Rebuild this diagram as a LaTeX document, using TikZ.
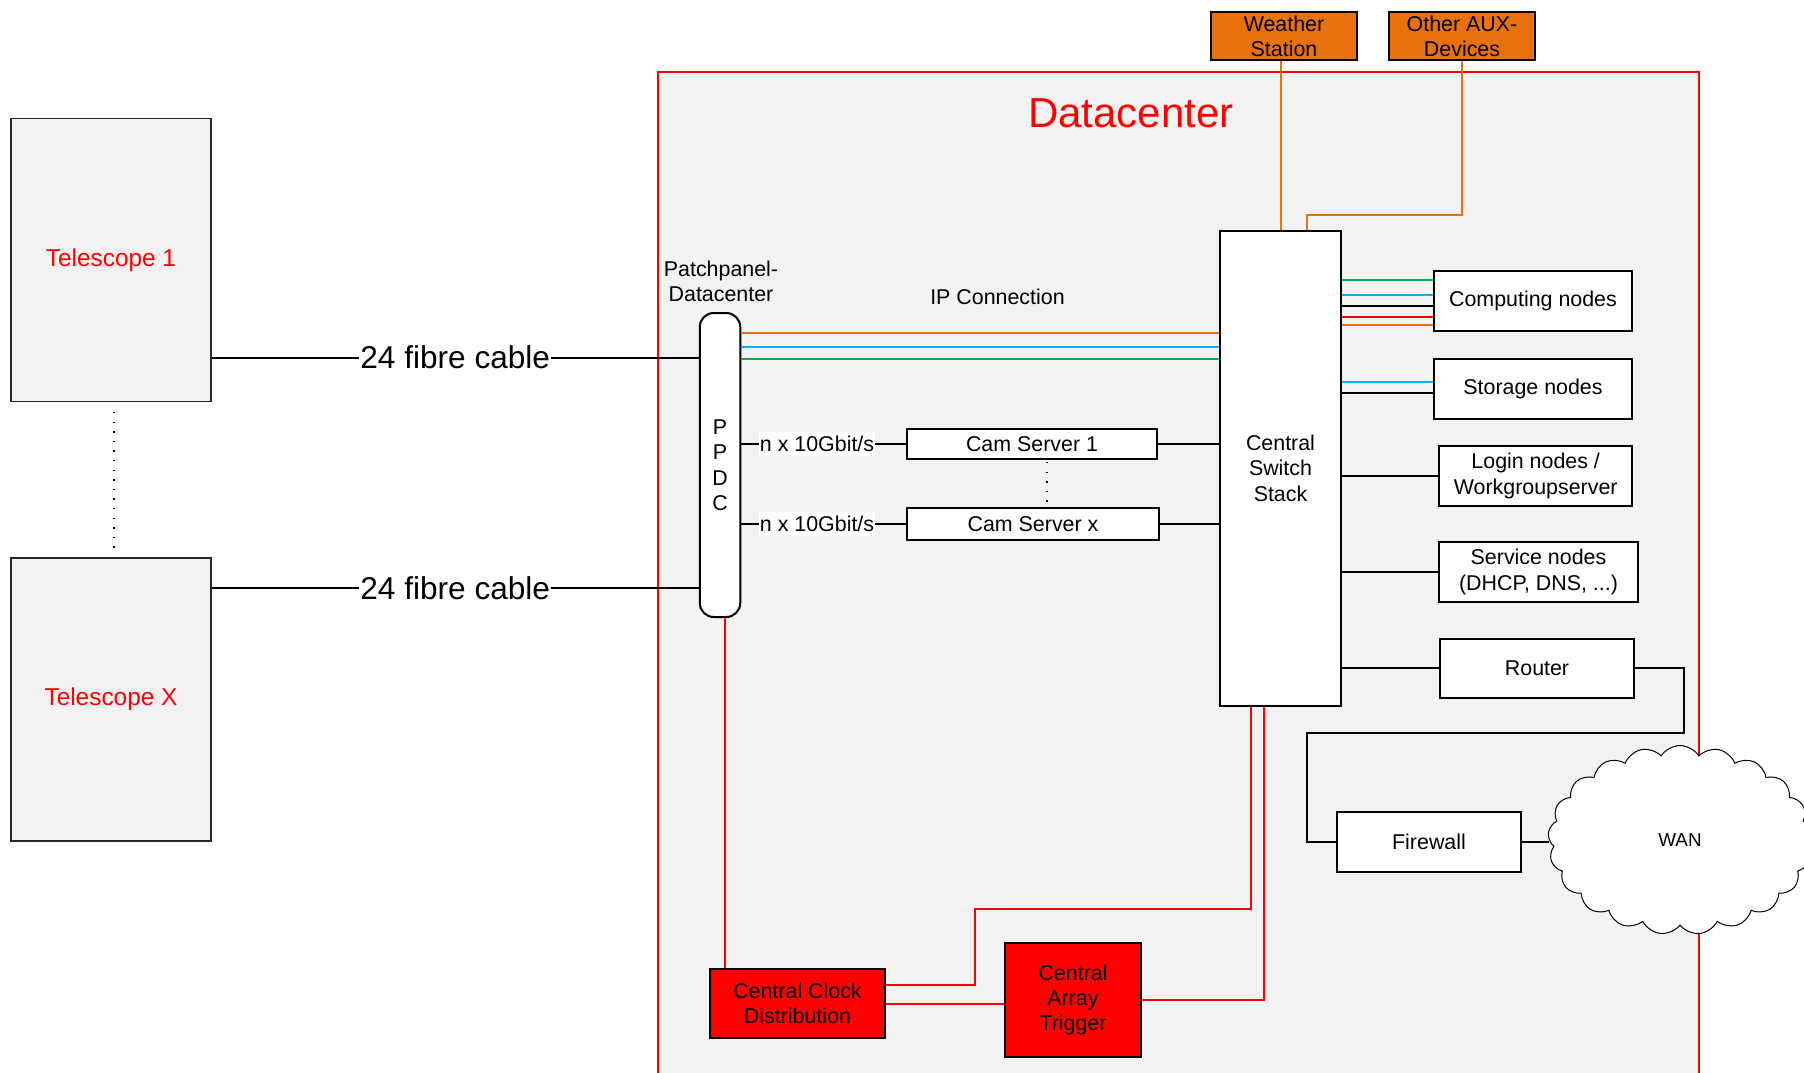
\documentclass[tikz,border=0pt]{standalone}
\usepackage{fontspec}
\setmainfont{Liberation Sans}
\usetikzlibrary{shapes.symbols}
\definecolor{dcgray}{RGB}{242,242,242}
\definecolor{auxorange}{RGB}{232,113,13}
\definecolor{lblue}{RGB}{0,176,240}
\definecolor{lgreen}{RGB}{0,176,80}
\begin{document}
\begin{tikzpicture}[x=0.5pt,y=-0.5pt,
  txt/.style={inner sep=0pt, align=center, font=\fontsize{10.7}{12.6}\selectfont},
  box/.style={txt, draw=black, line width=1pt, fill=white},
  tel/.style={draw=black!85, line width=0.75pt, fill=dcgray, minimum width=100pt, minimum height=141.5pt, text=red, font=\fontsize{12.2}{14}\selectfont},
  wire/.style={line width=1pt},
  fibre/.style={fill=white, inner sep=0.5pt, font=\fontsize{15.8}{18}\selectfont},
  rate/.style={fill=white, inner xsep=0.5pt, inner ysep=2pt, font=\fontsize{10.7}{12.6}\selectfont},
  dots/.style={line width=0.7pt, dash pattern=on 0.7pt off 4.1pt}]
\clip (0,0) rectangle (1804,1072);
\fill[white] (0,0) rectangle (1804,1072);
% datacenter area
\draw[red, line width=1pt, fill=dcgray] (657.5,72) rectangle (1699,1100);
\node[text=red, inner sep=0pt, font=\fontsize{21}{25}\selectfont] (dclabel) at (1131,113) {Datacenter};

% telescopes
\node[tel] (tel1) at (111,260) {Telescope 1};
\node[tel] (telx) at (111,699.5) {Telescope X};

% nodes
\node[box, rounded corners=7pt, minimum width=20.25pt, minimum height=152pt, font=\fontsize{10.7}{12.75}\selectfont] (ppdc) at (720,465) {P\\P\\D\\C};
\node[txt] (pplabel) at (721,281) {Patchpanel-\\Datacenter};
\node[txt] (iplabel) at (997.5,297) {IP Connection};
\node[box, minimum width=60.5pt, minimum height=237.7pt] (sw) at (1280.5,468.3) {Central\\Switch\\Stack};
\node[box, minimum width=125pt, minimum height=15pt] (cam1) at (1032,444) {Cam Server 1};
\node[box, minimum width=126pt, minimum height=15.75pt] (camx) at (1033,524) {Cam Server x};
\node[box, minimum width=99pt, minimum height=30pt] (comp) at (1533,300.7) {Computing nodes};
\node[box, minimum width=99pt, minimum height=30pt] (stor) at (1533,389) {Storage nodes};
\node[box, minimum width=96.75pt, minimum height=30pt] (login) at (1535.7,476) {Login nodes /\\Workgroupserver};
\node[box, minimum width=99.5pt, minimum height=30pt] (serv) at (1538.5,572) {Service nodes\\(DHCP, DNS, ...)};
\node[box, minimum width=97pt, minimum height=29.75pt] (router) at (1537,668.3) {Router};
\node[box, minimum width=92pt, minimum height=30pt] (fw) at (1429,842) {Firewall};
\node[box, fill=auxorange, minimum width=72.75pt, minimum height=24pt] (ws) at (1284,36) {Weather\\Station};
\node[box, fill=auxorange, minimum width=73pt, minimum height=24pt] (aux) at (1462,36) {Other AUX-\\Devices};
\node[box, fill=red, minimum width=87.5pt, minimum height=34.5pt] (clock) at (797.5,1003.5) {Central Clock\\Distribution};
\node[box, fill=red, minimum width=68pt, minimum height=57pt] (trig) at (1073,1000) {Central\\Array\\Trigger};
\node[cloud, draw=black, line width=0.5pt, fill=white, cloud puffs=21, cloud puff arc=115, cloud ignores aspect, minimum width=132pt, minimum height=94.5pt, inner sep=0pt, font=\fontsize{9.4}{11}\selectfont] (wan) at (1680,840) {WAN};

% helper coordinates
\coordinate (f1) at (0,357.5);
\coordinate (f2) at (0,588);
\coordinate (hO) at (0,333);
\coordinate (hB) at (0,346.7);
\coordinate (hG) at (0,358.7);
\coordinate (c1) at (0,279.7);
\coordinate (c2) at (0,295);
\coordinate (c3) at (0,306);
\coordinate (c4) at (0,316.7);
\coordinate (c5) at (0,324.7);
\coordinate (s1) at (0,382);
\coordinate (s2) at (0,392.5);
\coordinate (d1) at (114,412);
\coordinate (d2) at (114,551);
\coordinate (e1) at (1047,462);
\coordinate (e2) at (1047,507);
\coordinate (r1) at (1684,732.7);
\coordinate (r2) at (1307,732.7);
\coordinate (a1) at (1307,215);
\coordinate (pv) at (725,0);
\coordinate (k1) at (975,985);
\coordinate (k2) at (1251,909);
\coordinate (t1) at (1264,0);

% fibre cables
\draw[wire] (tel1.east |- f1) -- node[fibre] {24 fibre cable} (ppdc.west |- f1);
\draw[wire] (telx.east |- f2) -- node[fibre] {24 fibre cable} (ppdc.west |- f2);
\draw[dots] (d1) -- (d2);

% IP connection lines
\draw[wire, auxorange] (ppdc.east |- hO) -- (sw.west |- hO);
\draw[wire, lblue] (ppdc.east |- hB) -- (sw.west |- hB);
\draw[wire, lgreen] (ppdc.east |- hG) -- (sw.west |- hG);

% cam servers
\draw[wire] (ppdc.east |- cam1.west) -- node[rate, pos=0.46] {n x 10Gbit/s} (cam1.west);
\draw[wire] (ppdc.east |- camx.west) -- node[rate, pos=0.46] {n x 10Gbit/s} (camx.west);
\draw[wire] (cam1.east) -- (sw.west |- cam1.east);
\draw[wire] (camx.east) -- (sw.west |- camx.east);
\draw[dots] (e1) -- (e2);

% switch to right nodes
\draw[wire, lgreen] (sw.east |- c1) -- (comp.west |- c1);
\draw[wire, lblue] (sw.east |- c2) -- (comp.west |- c2);
\draw[wire] (sw.east |- c3) -- (comp.west |- c3);
\draw[wire, red] (sw.east |- c4) -- (comp.west |- c4);
\draw[wire, auxorange] (sw.east |- c5) -- (comp.west |- c5);
\draw[wire, lblue] (sw.east |- s1) -- (stor.west |- s1);
\draw[wire] (sw.east |- s2) -- (stor.west |- s2);
\draw[wire] (sw.east |- login.west) -- (login.west);
\draw[wire] (sw.east |- serv.west) -- (serv.west);
\draw[wire] (sw.east |- router.west) -- (router.west);
\draw[wire] (router.east) -| (r1) -- (r2) |- (fw.west);
\draw[wire] (fw.east) -- (wan.west |- fw.east);

% aux devices
\draw[wire, auxorange] (ws.south -| sw.north) -- (sw.north);
\draw[wire, auxorange] (aux.south) |- (a1) -- (a1 |- sw.north);

% timing / trigger
\draw[wire, red] (ppdc.south -| pv) -- (clock.north -| pv);
\draw[wire, red] (clock.east |- k1) -- (k1) |- (k2) -- (k2 |- sw.south);
\draw[wire, red] (trig.east) -| (t1 |- sw.south);
\draw[wire, red] (clock.east) -- (clock.east -| trig.west);
\end{tikzpicture}
\end{document}
